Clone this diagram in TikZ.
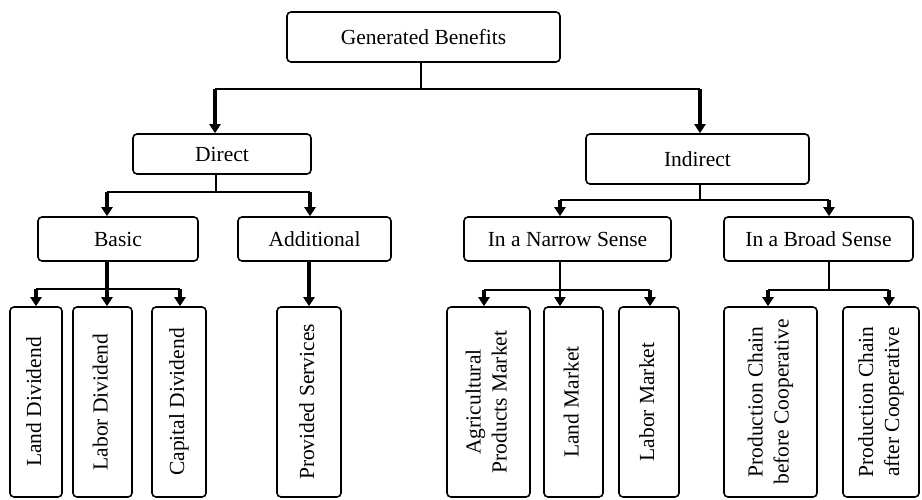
\documentclass[tikz,border=0pt]{standalone}
\usepackage{fontspec}
\setmainfont{Liberation Serif}
\usetikzlibrary{arrows.meta}
\begin{document}
\begin{tikzpicture}[x=1pt,y=-1pt,
  box/.style={draw, line width=1.6pt, rounded corners=4pt, inner sep=0pt,
    font=\fontsize{21.5}{26}\selectfont, align=center},
  leaf/.style={box, minimum height=190pt},
  bus/.style={line width=1.5pt},
  arr/.style={line width=3.2pt, -{Triangle[width=11pt,length=9pt]}},
  tarr/.style={line width=1.5pt, -{Triangle[width=11pt,length=9pt]}}
]
\useasboundingbox (0,0) rectangle (922,500);
\newcommand{\vt}[1]{\rotatebox{90}{\begin{tabular}{@{}c@{}}#1\end{tabular}}}
% level 0
\node[box, minimum width=273pt, minimum height=50pt] (top) at (423.5,37) {Generated Benefits};
% level 1
\node[box, minimum width=178pt, minimum height=40pt] (direct) at (222,154) {Direct};
\node[box, minimum width=223pt, minimum height=50pt] (indirect) at (697.5,159) {Indirect};
% level 2
\node[box, minimum width=160pt, minimum height=44pt] (basic) at (118,239) {Basic};
\node[box, minimum width=153pt, minimum height=44pt] (additional) at (314.5,239) {Additional};
\node[box, minimum width=207pt, minimum height=44pt] (narrow) at (567.5,239) {In a Narrow Sense};
\node[box, minimum width=189pt, minimum height=44pt] (broad) at (818.5,239) {In a Broad Sense};
% leaves
\node[leaf, minimum width=52pt] (landdiv) at (36,402) {\vt{Land Dividend}};
\node[leaf, minimum width=59pt] (labordiv) at (102.5,402) {\vt{Labor Dividend}};
\node[leaf, minimum width=54pt] (capdiv) at (179,402) {\vt{Capital Dividend}};
\node[leaf, minimum width=64pt] (provided) at (309,402) {\vt{Provided Services}};
\node[leaf, minimum width=83pt] (agri) at (488.5,402) {\vt{Agricultural\\Products Market}};
\node[leaf, minimum width=59pt] (landmkt) at (573.5,402) {\vt{Land Market}};
\node[leaf, minimum width=60pt] (labormkt) at (649,402) {\vt{Labor Market}};
\node[leaf, minimum width=93pt] (prodb) at (770.5,402) {\vt{Production Chain\\before Cooperative}};
\node[leaf, minimum width=76pt] (proda) at (881,402) {\vt{Production Chain\\after Cooperative}};

% top -> direct / indirect
\coordinate (tS) at ([xshift=-2.5pt]top.south);
\coordinate (dN) at ([xshift=-7pt]direct.north);
\coordinate (iN) at ([xshift=2.5pt]indirect.north);
\draw[bus] (tS) -- ++(0,26) coordinate (t1);
\draw[bus] (dN |- t1) -- (iN |- t1);
\draw[arr] (dN |- t1) -- (dN);
\draw[arr] (iN |- t1) -- (iN);

% direct -> basic / additional
\coordinate (dS) at ([xshift=-6pt]direct.south);
\coordinate (bN) at ([xshift=-11pt]basic.north);
\coordinate (aN) at ([xshift=-4.5pt]additional.north);
\draw[bus] (dS) -- ++(0,17) coordinate (d1);
\draw[bus] (bN |- d1) -- (aN |- d1);
\draw[arr] (bN |- d1) -- (bN);
\draw[arr] (aN |- d1) -- (aN);

% indirect -> narrow / broad
\coordinate (iS) at ([xshift=2.5pt]indirect.south);
\coordinate (nN) at ([xshift=-7.5pt]narrow.north);
\coordinate (brN) at ([xshift=10.5pt]broad.north);
\draw[bus] (iS) -- ++(0,15) coordinate (i1);
\draw[bus] (nN |- i1) -- (brN |- i1);
\draw[arr] (nN |- i1) -- (nN);
\draw[arr] (brN |- i1) -- (brN);

% basic -> dividends
\coordinate (bS) at ([xshift=-11pt]basic.south);
\coordinate (ldN) at (landdiv.north);
\coordinate (lbN) at ([xshift=4.5pt]labordiv.north);
\coordinate (cdN) at ([xshift=1pt]capdiv.north);
\coordinate (b1) at ([yshift=-27pt]bS);
\draw[bus] (ldN |- b1) -- (cdN |- b1);
\draw[arr] (bS) -- (lbN);
\draw[arr] (ldN |- b1) -- (ldN);
\draw[arr] (cdN |- b1) -- (cdN);

% additional -> provided
\draw[arr] ([xshift=-5.5pt]additional.south) -- (provided.north);

% narrow -> markets
\coordinate (nS) at ([xshift=-7.5pt]narrow.south);
\coordinate (agN) at ([xshift=-4.5pt]agri.north);
\coordinate (lmN) at ([xshift=-13.5pt]landmkt.north);
\coordinate (bmN) at ([xshift=1pt]labormkt.north);
\coordinate (n1) at ([yshift=-28pt]nS);
\draw[bus] (agN |- n1) -- (bmN |- n1);
\draw[tarr] (nS) -- (lmN);
\draw[arr] (agN |- n1) -- (agN);
\draw[arr] (bmN |- n1) -- (bmN);

% broad -> production chains
\coordinate (brS) at ([xshift=10.5pt]broad.south);
\coordinate (pbN) at ([xshift=-2.5pt]prodb.north);
\coordinate (paN) at ([xshift=8pt]proda.north);
\draw[bus] (brS) -- ++(0,28) coordinate (r1);
\draw[bus] (pbN |- r1) -- (paN |- r1);
\draw[arr] (pbN |- r1) -- (pbN);
\draw[arr] (paN |- r1) -- (paN);
\end{tikzpicture}
\end{document}
